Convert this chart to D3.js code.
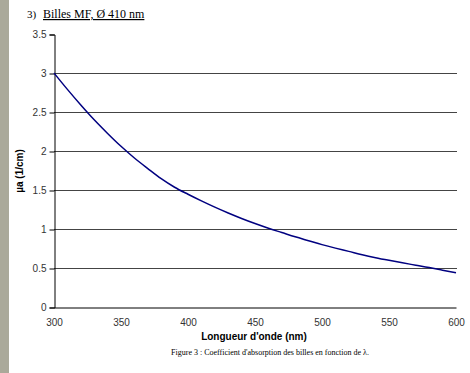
<!DOCTYPE html>
<html>
<head>
<meta charset="utf-8">
<script src="https://cdn.jsdelivr.net/npm/d3@7"></script>
<style>
  body { margin: 0; background: #fff; }
  svg { display: block; }
</style>
</head>
<body>
<script>
// wavelength (nm) and absorption coefficient (1/cm)
var lambda = [300, 310, 320, 330, 340, 350, 360, 370, 380, 390, 400, 410, 420, 430, 440, 450,
              460, 470, 480, 490, 500, 510, 520, 530, 540, 550, 560, 570, 580, 590, 600];
var mua = [3.00, 2.79, 2.59, 2.40, 2.225, 2.06, 1.91, 1.775, 1.645, 1.535, 1.445, 1.36, 1.28, 1.205, 1.135, 1.07,
           1.01, 0.955, 0.90, 0.85, 0.80, 0.755, 0.713, 0.67, 0.632, 0.598, 0.566, 0.536, 0.506, 0.472, 0.438];
var xTicks = [300, 350, 400, 450, 500, 550, 600];
var yTicks = [0, 0.5, 1, 1.5, 2, 2.5, 3, 3.5];

var W = 470, H = 373;
var plotL = 54, plotR = 456, plotT = 34, plotB = 307;

var svg = d3.select('body').append('svg')
  .attr('width', W)
  .attr('height', H);

svg.append('rect').attr('width', W).attr('height', H).attr('fill', '#fff');
// grey strip on the left edge of the page scan
svg.append('rect').attr('x', 0).attr('y', 0).attr('width', 9).attr('height', H).attr('fill', '#aaa99a');

var x = d3.scaleLinear().domain([300, 600]).range([plotL, plotR]);
var y = d3.scaleLinear().domain([0, 3.5]).range([plotB, plotT]);

// horizontal grid lines
svg.append('g').selectAll('line')
  .data(yTicks.filter(function(d) { return d > 0 && d < 3.5; }))
  .enter().append('line')
  .attr('x1', plotL).attr('x2', plotR + 1)
  .attr('y1', function(d) { return Math.round(y(d)) + 0.5; })
  .attr('y2', function(d) { return Math.round(y(d)) + 0.5; })
  .attr('stroke', '#444')
  .attr('stroke-width', 1);

// y axis
var yAxis = d3.axisLeft(y).tickValues(yTicks).tickSize(5).tickPadding(3)
  .tickFormat(function(d) { return d; });
var gy = svg.append('g').attr('transform', 'translate(' + (plotL + 0.5) + ',0.5)').call(yAxis);
gy.select('.domain').attr('stroke', '#000');
gy.selectAll('.tick line').attr('stroke', '#000');
gy.selectAll('.tick text').attr('font-family', 'Liberation Sans, Arial, sans-serif')
  .attr('font-size', 10).attr('fill', '#333');

// x axis, no tick marks
var xAxis = d3.axisBottom(x).tickValues(xTicks).tickSize(0).tickPadding(11);
var gx = svg.append('g').attr('transform', 'translate(0,' + (plotB + 0.5) + ')').call(xAxis);
gx.select('.domain').attr('stroke', '#000');
gx.selectAll('.tick text').attr('font-family', 'Liberation Sans, Arial, sans-serif')
  .attr('font-size', 10).attr('fill', '#333');

// curve
var line = d3.line()
  .x(function(d, i) { return x(lambda[i]); })
  .y(function(d) { return y(d); })
  .curve(d3.curveMonotoneX);

svg.append('path')
  .datum(mua)
  .attr('d', line)
  .attr('fill', 'none')
  .attr('stroke', '#000080')
  .attr('stroke-width', 1.5);

// titles
var title = svg.append('text')
  .attr('x', 27).attr('y', 18)
  .attr('font-family', 'Liberation Serif, Times New Roman, serif')
  .attr('font-size', 12).attr('fill', '#000');
title.append('tspan').attr('font-size', 11).text('3)');
title.append('tspan').attr('x', 43).attr('text-decoration', 'underline').text('Billes MF, Ø 410 nm');

svg.append('text')
  .attr('x', 254).attr('y', 340)
  .attr('text-anchor', 'middle')
  .attr('font-family', 'Liberation Sans, Arial, sans-serif')
  .attr('font-size', 10).attr('font-weight', 'bold')
  .text("Longueur d'onde (nm)");

svg.append('text')
  .attr('transform', 'translate(23,171) rotate(-90)')
  .attr('text-anchor', 'middle')
  .attr('font-family', 'Liberation Sans, Arial, sans-serif')
  .attr('font-size', 10).attr('font-weight', 'bold')
  .text('µa (1/cm)');

svg.append('text')
  .attr('x', 270).attr('y', 355)
  .attr('text-anchor', 'middle')
  .attr('font-family', 'Liberation Serif, Times New Roman, serif')
  .attr('font-size', 8).attr('fill', '#000')
  .text("Figure 3 : Coefficient d'absorption des billes en fonction de λ.");
</script>
</body>
</html>
